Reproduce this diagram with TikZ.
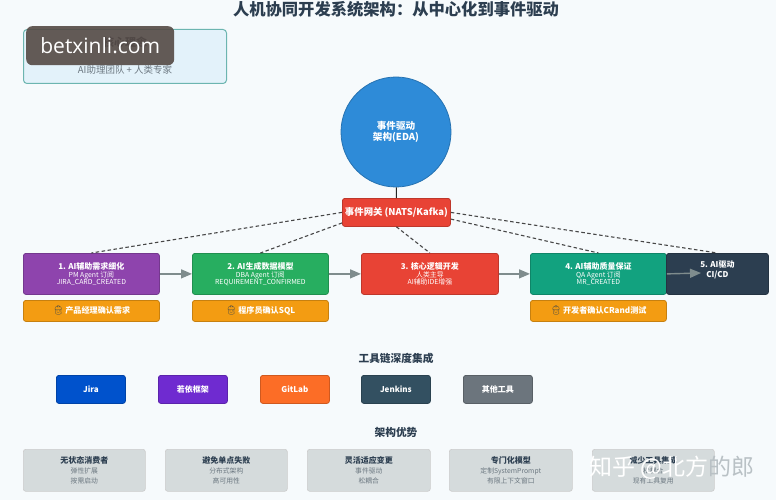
\documentclass[tikz,border=0pt]{standalone}
\usepackage{fontspec}
\setmainfont{Noto Sans CJK SC}
\newfontfamily\emojifont{Noto Emoji}
\newfontfamily\wmfont{Open Sans}
\usetikzlibrary{arrows.meta,calc}
\definecolor{pageBg}{HTML}{F6FAFC}
\definecolor{ink}{HTML}{2C3E50}
\definecolor{subInk}{HTML}{6B7780}
\definecolor{cPurple}{HTML}{8E44AD}
\definecolor{cGreen}{HTML}{27AE60}
\definecolor{cRed}{HTML}{E84335}
\definecolor{cTeal}{HTML}{12A27F}
\definecolor{cOrange}{HTML}{F39C12}
\definecolor{cBlue}{HTML}{2E8BD8}
\definecolor{cJira}{HTML}{0052CC}
\definecolor{cRuoyi}{HTML}{6F2BD0}
\definecolor{cGit}{HTML}{FC6D26}
\definecolor{cJenkins}{HTML}{335061}
\definecolor{cOther}{HTML}{6C757D}
\definecolor{cCard}{HTML}{D5DBDC}
\definecolor{cConcept}{HTML}{E3F2FA}
\definecolor{cConceptB}{HTML}{6CB5B0}
\definecolor{cMark}{HTML}{554A45}
\definecolor{cFlow}{HTML}{7F8C8D}
\definecolor{cZh}{HTML}{B9C1C5}
\tikzset{
  px/.style={x=1pt,y=-1pt},
  box/.style={rectangle,rounded corners=2.5pt,draw=#1!82!black,fill=#1,line width=.8pt,inner sep=0pt,align=center,text=white,anchor=north west},
  stepbox/.style={box=#1,minimum height=41pt,font=\fontsize{6.9}{7}\selectfont},
  gatebox/.style={box=#1,minimum height=21pt,minimum width=136pt,font=\bfseries\fontsize{8.1}{9}\selectfont,text=white},
  toolbox/.style={box=#1,minimum width=69pt,minimum height=28pt,font=\bfseries\fontsize{8}{10}\selectfont},
  card/.style={rectangle,rounded corners=2.5pt,draw=black!20,fill=cCard,line width=.6pt,minimum height=42pt,inner sep=0pt,align=center,anchor=north west,text=subInk,font=\fontsize{6.8}{10}\selectfont},
  heading/.style={font=\bfseries\fontsize{10.7}{12}\selectfont,text=ink},
  flow/.style={draw=cFlow,line width=1.4pt,-{Triangle[length=11pt,width=9pt]}},
  evt/.style={draw=black!72,line width=1.1pt,dash pattern=on 3.5pt off 2.5pt},
}
\newcommand{\stepttl}[1]{{\bfseries\fontsize{8}{12}\selectfont #1}\\[1.5pt]}
\newcommand{\cardttl}[1]{{\bfseries\fontsize{8}{10}\selectfont\color{ink} #1}\\}
\newcommand{\worker}{{\emojifont\color{ink}\fontsize{9}{9}\selectfont 👷}\,}
\begin{document}
\begin{tikzpicture}[px]
\useasboundingbox (0,0) rectangle (776,500);
\fill[pageBg] (0,0) rectangle (776,500);
\node[heading,font=\bfseries\fontsize{16.3}{18}\selectfont] (title) at (396,9) {人机协同开发系统架构：从中心化到事件驱动};
% concept box
\node[rectangle,rounded corners=3.5pt,draw=cConceptB,fill=cConcept,line width=1pt,minimum width=203pt,minimum height=54pt,inner sep=0pt,anchor=north west,align=center,text=subInk,font=\fontsize{9.5}{12}\selectfont] (concept) at (23,29) {~\\[23pt]AI助理团队 + 人类专家};
\node[font=\bfseries\fontsize{11}{12}\selectfont,text=ink] (conceptT) at (125,42) {核心理念};
\node[rectangle,rounded corners=6pt,fill=cMark,fill opacity=.9,text opacity=1,inner sep=0pt,minimum width=148pt,minimum height=39pt,anchor=north west,text=white,font=\wmfont\fontsize{21}{24}\selectfont] (wm) at (26,26) {betxinli.com};
% centre
\node[circle,draw=cBlue!82!black,fill=cBlue,line width=.8pt,minimum size=110pt,inner sep=0pt,align=center,text=white,font=\bfseries\fontsize{9.6}{11}\selectfont] (eda) at (396,132) {事件驱动\\架构(EDA)};
\node[box=cRed,minimum width=108pt,minimum height=28pt,font=\bfseries\fontsize{9.4}{10}\selectfont] (gw) at (342,198) {事件网关 (NATS/Kafka)};
% steps
\node[stepbox=cPurple,minimum width=136pt] (s1) at (23,253) {\stepttl{1. AI辅助需求细化}PM Agent 订阅\\JIRA\_CARD\_CREATED};
\node[stepbox=cGreen,minimum width=136pt] (s2) at (192,253) {\stepttl{2. AI生成数据模型}DBA Agent 订阅\\REQUIREMENT\_CONFIRMED};
\node[stepbox=cRed,minimum width=137pt] (s3) at (361,253) {\stepttl{3. 核心逻辑开发}人类主导\\AI辅助IDE增强};
\node[stepbox=cTeal,minimum width=136pt] (s4) at (530,253) {\stepttl{4. AI辅助质量保证}QA Agent 订阅\\MR\_CREATED};
\node[stepbox=ink,minimum width=102pt,font=\bfseries\fontsize{8}{10.5}\selectfont] (s5) at (666,253) {5. AI驱动\\CI/CD\\[-1pt]~};
\coordinate (a45) at (701,273);
% human gates
\node[gatebox=cOrange] (h1) at (23,300) {\worker 产品经理确认需求};
\node[gatebox=cOrange] (h2) at (192,300) {\worker 程序员确认SQL};
\node[gatebox=cOrange] (h4) at (530,300) {\worker 开发者确认CRand测试};
% connectors
\draw[black!85,line width=1pt] (eda) -- (gw);
\draw[evt] (gw.west) -- (s1.north);
\draw[evt] (gw.191) -- (s2.north);
\draw[evt] (gw.south) -- (s3.north);
\draw[evt] (gw.-7) -- (s4.north);
\draw[evt] (gw.east) -- (s5.north);
\draw[flow] (s1) -- (s2);
\draw[flow] (s2) -- (s3);
\draw[flow] (s3) -- (s4);
\draw[flow] (s4.east) -- (a45);
% tools
\node[heading] (toolsT) at (396,358) {工具链深度集成};
\node[toolbox=cJira] (t1) at (56,375) {Jira};
\node[toolbox=cRuoyi] (t2) at (158,375) {若依框架};
\node[toolbox=cGit] (t3) at (260,375) {GitLab};
\node[toolbox=cJenkins] (t4) at (361,375) {Jenkins};
\node[toolbox=cOther] (t5) at (463,375) {其他工具};
% advantages
\node[heading] (advT) at (396,432) {架构优势};
\node[card,minimum width=122pt] (c1) at (23,449) {\cardttl{无状态消费者}弹性扩展\\按需启动};
\node[card,minimum width=122pt] (c2) at (165,449) {\cardttl{避免单点失败}分布式架构\\高可用性};
\node[card,minimum width=123pt] (c3) at (307,449) {\cardttl{灵活适应变更}事件驱动\\松耦合};
\node[card,minimum width=123pt] (c4) at (449,449) {\cardttl{专门化模型}定制SystemPrompt\\有限上下文窗口};
\node[card,minimum width=122pt] (c5) at (592,449) {\cardttl{减少工具集成}松耦合\\现有工具复用};
\node[text=white,font=\fontsize{23}{26}\selectfont,anchor=west,inner sep=0pt] (zh) at (589,468) {知乎 @北方{\color{cZh}的郎}};
\end{tikzpicture}
\end{document}
